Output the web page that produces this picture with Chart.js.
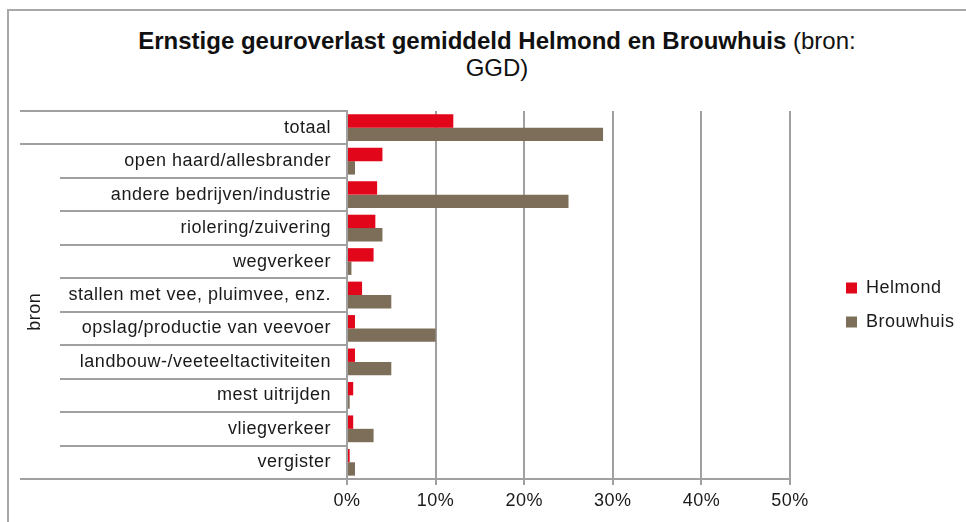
<!DOCTYPE html>
<html>
<head>
<meta charset="utf-8">
<title>Ernstige geuroverlast</title>
<script src="https://cdn.jsdelivr.net/npm/chart.js@4.4.1/dist/chart.umd.min.js"></script>
<style>
    body { margin: 0; background: #fff; overflow: hidden; }
    #wrap { position: relative; width: 966px; height: 522px; }
    #frame {
        position: absolute; left: 7px; top: 9px; width: 1000px; height: 600px;
        border-left: 2px solid #a8a8a8; border-top: 2px solid #a8a8a8;
    }
    #title {
        position: absolute; left: 0; top: 27px; width: 994px; text-align: center;
        font-family: "Liberation Sans", Arial, sans-serif; font-size: 24px; line-height: 27px;
        color: #111;
    }
    #title b { font-weight: bold; }
    canvas { position: absolute; left: 0; top: 0; }
</style>
</head>
<body>
<div id="wrap">
    <div id="frame"></div>
    <div id="title"><b>Ernstige geuroverlast gemiddeld Helmond en Brouwhuis</b> (bron:<br>GGD)</div>
    <canvas id="odour-chart" width="966" height="522"></canvas>
</div>
<script>
// Categories (top to bottom) and percentages
const categories = [
    'totaal',
    'open haard/allesbrander',
    'andere bedrijven/industrie',
    'riolering/zuivering',
    'wegverkeer',
    'stallen met vee, pluimvee, enz.',
    'opslag/productie van veevoer',
    'landbouw-/veeteeltactiviteiten',
    'mest uitrijden',
    'vliegverkeer',
    'vergister'
];
const helmond   = [12.0, 4.0, 3.4, 3.2, 3.0, 1.7, 0.9, 0.9, 0.7, 0.7, 0.3];
const brouwhuis = [28.9, 0.9, 25.0, 4.0, 0.5, 5.0, 10.0, 5.0, 0.3, 3.0, 0.9];
const xTicks = [0, 10, 20, 30, 40, 50];
const groupLabel = 'bron';

const GRID = '#a0a0a0';
const TEXT = '#1a1a1a';
const FONT = '"Liberation Sans", Arial, sans-serif';

// slight letter spacing like the original rendering
const spacingPlugin = {
    id: 'spacing',
    beforeLayout(chart) { chart.ctx.letterSpacing = '0.5px'; },
    beforeDraw(chart) { chart.ctx.letterSpacing = '0.5px'; }
};

// row separators in the label column + rotated group label
const labelTablePlugin = {
    id: 'labelTable',
    afterLayout(chart) {
        // place the legend next to the plot like the original
        const lg = chart.legend;
        const p = lg.options.labels.padding;
        const h = lg.columnSizes[0].height;
        lg.left = 846 - p;
        lg.right = chart.width; // wide enough so the clip keeps the full text
        lg.top = 279 - p - 1;
        lg.bottom = lg.top + p + h + 2;
    },
    afterDraw(chart) {
        const ys = chart.scales.y;
        const ctx = chart.ctx;
        const n = categories.length;
        const step = ys.getPixelForValue(1) - ys.getPixelForValue(0);
        const edge = i => ys.getPixelForValue(i) - step / 2;
        ctx.save();
        ctx.strokeStyle = GRID;
        ctx.lineWidth = 2;
        for (let i = 0; i <= n; i++) {
            const y = Math.round(edge(i));
            const x0 = (i === 0 || i === 1 || i === n) ? 20 : 60;
            ctx.beginPath();
            ctx.moveTo(x0, y);
            ctx.lineTo(ys.right, y);
            ctx.stroke();
        }
        // group label "bron"
        const yc = (edge(1) + edge(n)) / 2;
        ctx.translate(35, yc);
        ctx.rotate(-Math.PI / 2);
        ctx.fillStyle = TEXT;
        ctx.font = '18px ' + FONT;
        ctx.textAlign = 'center';
        ctx.textBaseline = 'middle';
        ctx.fillText(groupLabel, 0, 0);
        ctx.restore();
    }
};

function createOdourChart() {
    const ctx = document.getElementById('odour-chart');
    return new Chart(ctx, {
        type: 'bar',
        data: {
            labels: categories,
            datasets: [
                {
                    label: 'Helmond',
                    data: helmond,
                    backgroundColor: '#e2061a',
                    borderWidth: 0,
                    categoryPercentage: 0.8,
                    barPercentage: 1.0
                },
                {
                    label: 'Brouwhuis',
                    data: brouwhuis,
                    backgroundColor: '#7d6e59',
                    borderWidth: 0,
                    categoryPercentage: 0.8,
                    barPercentage: 1.0
                }
            ]
        },
        options: {
            indexAxis: 'y',
            responsive: false,
            animation: false,
            layout: {
                padding: { top: 111, left: 20, right: 76, bottom: 0 }
            },
            plugins: {
                title: { display: false },
                tooltip: { enabled: false },
                legend: {
                    position: 'right',
                    maxWidth: 100,
                    labels: {
                        boxWidth: 11,
                        boxHeight: 11,
                        padding: 16,
                        color: TEXT,
                        font: { family: FONT, size: 18 }
                    }
                }
            },
            scales: {
                x: {
                    min: 0,
                    max: 50,
                    afterBuildTicks(scale) {
                        scale.ticks = xTicks.map(v => ({ value: v }));
                    },
                    afterFit(scale) { scale.height = 43; },
                    ticks: {
                        color: TEXT,
                        padding: 5,
                        font: { family: FONT, size: 18 },
                        callback: v => v + '%'
                    },
                    grid: {
                        color: GRID,
                        lineWidth: 2,
                        tickLength: 6
                    },
                    border: { color: GRID, width: 2 }
                },
                y: {
                    afterFit(scale) { scale.width = 327; },
                    ticks: {
                        color: TEXT,
                        padding: 16,
                        font: { family: FONT, size: 18 },
                        autoSkip: false
                    },
                    grid: {
                        drawOnChartArea: false,
                        drawTicks: false
                    },
                    border: { color: GRID, width: 2 }
                }
            }
        },
        plugins: [spacingPlugin, labelTablePlugin]
    });
}

createOdourChart();
</script>
</body>
</html>
